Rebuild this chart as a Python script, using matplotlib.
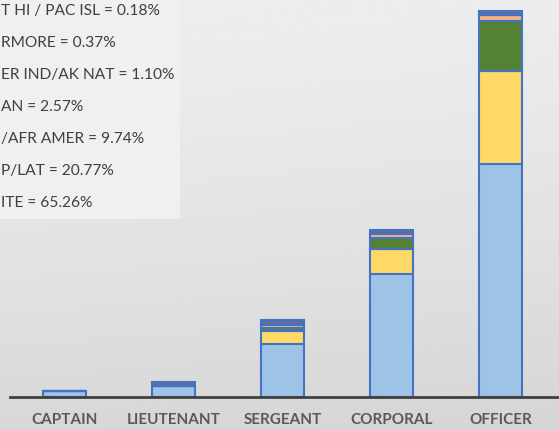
import matplotlib.pyplot as plt
import numpy as np
from matplotlib.patches import Rectangle

ranks = ['CAPTAIN', 'LIEUTENANT', 'SERGEANT', 'CORPORAL', 'OFFICER']
white = [6, 11, 53, 123, 233]
hisp = [0, 0, 13, 25, 93]
black = [0, 0, 3, 11, 50]
asian = [0, 0, 3, 4, 6]
other = [0, 4, 5, 4, 4]

legend_lines = ['T HI / PAC ISL = 0.18%',
                'RMORE = 0.37%',
                'ER IND/AK NAT = 1.10%',
                'AN = 2.57%',
                '/AFR AMER = 9.74%',
                'P/LAT = 20.77%',
                'ITE = 65.26%']

W, H = 559, 431
fig = plt.figure(figsize=(W / 100, H / 100), dpi=100)

# grey gradient background
bg = fig.add_axes([0, 0, 1, 1], zorder=0)
yy, xx = np.mgrid[0:1:200j, 0:1:200j]
shade = 0.925 - 0.09 * yy ** 1.3 + 0.01 * (1 - xx)
bg.imshow(shade, cmap='gray', vmin=0, vmax=1, aspect='auto', extent=[0, 1, 0, 1])
bg.add_patch(Rectangle((0, 1 - 220 / H), 180 / W, 220 / H, color='#f0f0f0', lw=0))
bg.set_xlim(0, 1)
bg.set_ylim(0, 1)
bg.axis('off')

for i, line in enumerate(legend_lines):
    fig.text(1 / W, 1 - (11 + 32 * i) / H, line, fontsize=11.2, family='Lato',
             color='#404040', va='center', ha='left')

ax = fig.add_axes([10 / W, 33 / H, 1 - 10 / W, 398 / H], zorder=1)
ax.patch.set_alpha(0)
x = np.arange(len(ranks))
series = [(white, '#9dc3e6'), (hisp, '#ffd966'), (black, '#548235'),
          (asian, '#f4b183'), (other, '#5d6f9e')]
bottom = np.zeros(len(ranks))
for vals, col in series:
    ax.bar(x, vals, 0.40, bottom=bottom, color=col, edgecolor='#4472c4', linewidth=1.5)
    bottom += np.array(vals)

ax.set_xlim(-0.5, 4.537)
ax.set_ylim(0, 398)
for s in ['top', 'right', 'left']:
    ax.spines[s].set_visible(False)
ax.spines['bottom'].set_color('#404040')
ax.spines['bottom'].set_linewidth(2)
ax.set_yticks([])
ax.set_xticks(x)
ax.set_xticklabels(ranks, fontsize=11, family='Lato', fontweight='bold', color='#595959')
ax.tick_params(axis='x', length=0, pad=11)

plt.savefig('out.png', dpi=100)
